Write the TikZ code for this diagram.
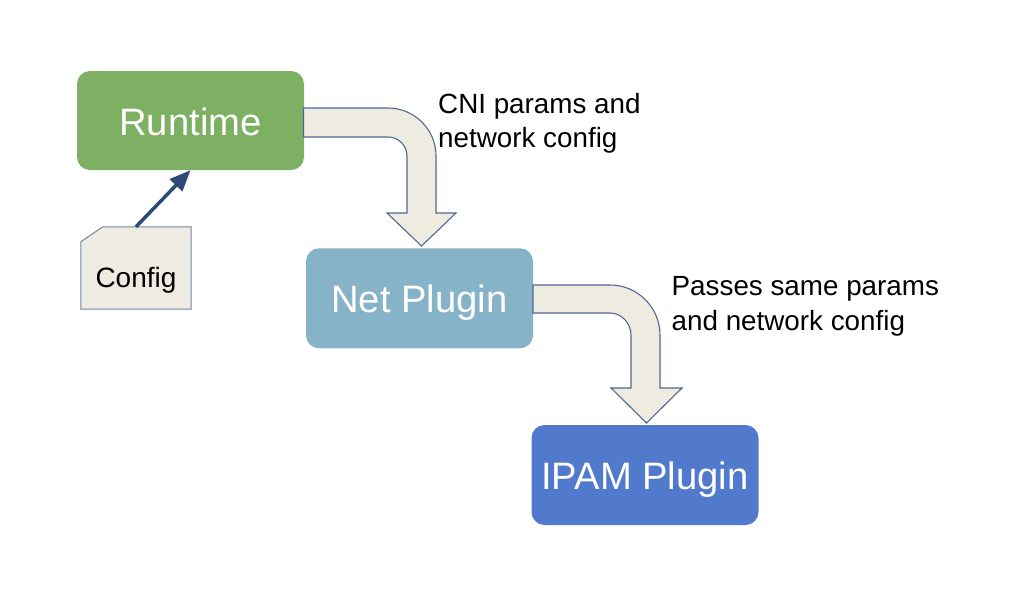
\documentclass[tikz,border=0pt]{standalone}
\usepackage{fontspec}
\setmainfont{Liberation Sans}
\usetikzlibrary{arrows.meta,backgrounds}
\definecolor{rtgreen}{RGB}{126,176,99}
\definecolor{netblue}{RGB}{134,179,199}
\definecolor{ipamblue}{RGB}{82,122,204}
\definecolor{paper}{RGB}{238,236,225}
\definecolor{edgeblue}{RGB}{80,103,148}
\definecolor{cfgedge}{RGB}{112,132,172}
\definecolor{navy}{RGB}{44,73,120}
\begin{document}
\begin{tikzpicture}[x=1pt,y=-1pt,
  procbox/.style={rounded corners=13pt, minimum width=227pt, minimum height=99pt,
    inner sep=0pt, text=white, text height=29pt, text depth=0pt,
    font=\fontsize{38.2}{45}\selectfont},
  fatarrow/.style={fill=paper, draw=edgeblue, line width=1.1pt, line join=miter},
  lbl/.style={inner sep=0pt, align=left, anchor=north west,
    font=\fontsize{27.8}{34.5}\selectfont}
]
\useasboundingbox (0,0) rectangle (1010,592);

% boxes
\node[procbox, fill=rtgreen] (rt) at (190.5,120.5) {Runtime};
\node[procbox, fill=netblue, minimum height=100pt] (net) at (419.5,298.3) {Net Plugin};
\node[procbox, fill=ipamblue, minimum height=100pt] (ipam) at (645,475) {IPAM Plugin};

% config document
\node[minimum width=110pt, minimum height=82pt, inner sep=0pt,
  text height=39pt, text depth=0pt, font=\fontsize{28}{34}\selectfont] (cfg) at (136,268) {Config};
\begin{scope}[on background layer]
\fill[white] (0,0) rectangle (1010,592);
\draw[fill=paper, draw=cfgedge, line width=1pt]
  (cfg.south west) -- (cfg.south east) -- (cfg.north east)
  -- ([xshift=22pt]cfg.north west) -- ([yshift=-15pt]cfg.north west) -- cycle;
\end{scope}

\draw[navy, line width=3.5pt, -{Triangle[length=21pt,width=17pt]}] (cfg.north) -- (rt.south);

% fat arrow 1: Runtime -> Net Plugin
\draw[fatarrow] (303.5,108) -- (388,108)
  .. controls (414.5,108) and (436,129.5) .. (436,156)
  -- (436,213) -- (456,213) -- (421.5,246) -- (387,213) -- (407,213)
  -- (407,156) .. controls (407,145.5) and (398.5,137) .. (388,137)
  -- (303.5,137) -- cycle;
\node[lbl] (l1) at (438,93) {CNI params and\\network config};

% fat arrow 2: Net Plugin -> IPAM Plugin
\draw[fatarrow] (533,285) -- (610,285)
  .. controls (637.6,285) and (660,307.4) .. (660,335)
  -- (660,388) -- (682,388) -- (646.5,423) -- (611,388) -- (631,388)
  -- (631,335) .. controls (631,323.4) and (621.6,313) .. (610,313)
  -- (533,313) -- cycle;
\node[lbl] (l2) at (671.5,276.5) {Passes same params\\and network config};
\end{tikzpicture}
\end{document}
